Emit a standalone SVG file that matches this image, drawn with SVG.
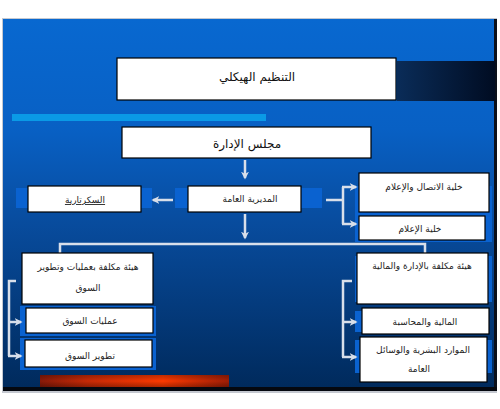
<svg xmlns="http://www.w3.org/2000/svg" width="500" height="409" viewBox="0 0 500 409">
<defs>
<linearGradient id="bg" x1="0" y1="0" x2="0" y2="1">
<stop offset="0" stop-color="#0868d0"/>
<stop offset="0.3" stop-color="#0860c4"/>
<stop offset="0.55" stop-color="#084c9e"/>
<stop offset="1" stop-color="#002a5c"/>
</linearGradient>
<linearGradient id="dark" x1="0" y1="0" x2="1" y2="0">
<stop offset="0" stop-color="#0a2c58"/>
<stop offset="1" stop-color="#000c22"/>
</linearGradient>
<linearGradient id="red" x1="0" y1="0" x2="1" y2="0">
<stop offset="0" stop-color="#8a1a08"/>
<stop offset="0.25" stop-color="#c82a06"/>
<stop offset="0.65" stop-color="#ff3a00"/>
<stop offset="1" stop-color="#a01e06"/>
</linearGradient>
<linearGradient id="redv" x1="0" y1="0" x2="0" y2="1">
<stop offset="0" stop-color="#000" stop-opacity="0.25"/>
<stop offset="0.5" stop-color="#000" stop-opacity="0"/>
<stop offset="1" stop-color="#000" stop-opacity="0.3"/>
</linearGradient>
<marker id="ah" viewBox="0 0 10 10" refX="8" refY="5" markerWidth="3.2" markerHeight="3.2" orient="auto" markerUnits="strokeWidth">
<path d="M0,0 L10,5 L0,10 L3,5 Z" fill="#d8dfea"/>
</marker>
<style>
.box{fill:#ffffff;stroke:#000000;stroke-width:1.2}
.pad{fill:#0a62d0}
.t{font-family:"DejaVu Sans","Liberation Sans",sans-serif;font-size:9px;fill:#222;text-anchor:middle;direction:rtl}
.big{font-size:12px;fill:#111}
.con{fill:none;stroke:#d8dfea;stroke-width:2.5}
</style>
</defs>
<rect x="0" y="0" width="500" height="409" fill="#ffffff"/>
<rect x="2" y="18" width="495" height="375" fill="#c4c8d0"/>
<rect x="3" y="19" width="492" height="369" fill="url(#bg)"/>
<rect x="494" y="19" width="3" height="372" fill="#0a0f1a"/>
<rect x="3" y="387" width="494" height="4" fill="#05080f"/>
<rect x="397" y="61" width="98" height="40" fill="url(#dark)"/>
<rect x="12" y="114" width="254" height="7" fill="#0a9ae6"/>
<rect x="40" y="375" width="189" height="12" fill="url(#red)"/>
<rect x="40" y="375" width="189" height="12" fill="url(#redv)"/>

<g id="pads">
<rect class="pad" x="16" y="188" width="136" height="20"/>
<rect class="pad" x="175" y="188" width="147" height="20"/>
<rect class="pad" x="355" y="186" width="137" height="56"/>
<rect class="pad" x="20" y="306" width="136" height="30"/>
<rect class="pad" x="20" y="338" width="136" height="32"/>
<rect class="pad" x="355" y="256" width="137" height="46"/>
<rect class="pad" x="355" y="311" width="10" height="21"/>
<rect class="pad" x="355" y="340" width="137" height="33"/>
</g>

<g id="connectors">
<line class="con" x1="245" y1="160" x2="245" y2="178" marker-end="url(#ah)"/>
<line class="con" x1="173" y1="200" x2="153" y2="200" marker-end="url(#ah)"/>
<line class="con" x1="326" y1="200" x2="343" y2="200"/>
<line class="con" x1="343" y1="187" x2="343" y2="224"/>
<line class="con" x1="342" y1="187" x2="356" y2="187" marker-end="url(#ah)"/>
<line class="con" x1="342" y1="224" x2="356" y2="224" marker-end="url(#ah)"/>
<line class="con" x1="245" y1="214" x2="245" y2="238" marker-end="url(#ah)"/>
<path class="con" d="M60,253 V244 H425 V253"/>
<path class="con" d="M16,281 H9 V356"/>
<line class="con" x1="8" y1="322" x2="21" y2="322" marker-end="url(#ah)"/>
<line class="con" x1="8" y1="356" x2="21" y2="356" marker-end="url(#ah)"/>
<path class="con" d="M352,281 H343 V357"/>
<line class="con" x1="342" y1="322" x2="356" y2="322" marker-end="url(#ah)"/>
<line class="con" x1="342" y1="357" x2="356" y2="357" marker-end="url(#ah)"/>
</g>

<g id="title">
<rect class="box" x="117" y="58" width="279" height="42" stroke-width="1.5"/>
<text class="t big" x="257" y="81">التنظيم الهيكلي</text>
</g>
<g id="board">
<rect class="box" x="122" y="127" width="249" height="31"/>
<text class="t big" x="247" y="148">مجلس الإدارة</text>
</g>
<g id="directorate">
<rect class="box" x="188" y="186" width="113" height="26"/>
<text class="t" x="250" y="202">المديرية العامة</text>
</g>
<g id="secretariat">
<rect class="box" x="28" y="186" width="113" height="26"/>
<text class="t" x="85" y="203" text-decoration="underline">السكرتارية</text>
</g>
<g id="comm">
<rect class="box" x="359" y="173" width="130" height="39"/>
<text class="t" x="424" y="190">خلية الاتصال والإعلام</text>
</g>
<g id="media">
<rect class="box" x="359" y="216" width="126" height="24"/>
<text class="t" x="420" y="232">خلية الإعلام</text>
</g>
<g id="market">
<rect class="box" x="22" y="253" width="131" height="51"/>
<text class="t" x="88" y="270">هيئة مكلفة بعمليات وتطوير</text>
<text class="t" x="88" y="291">السوق</text>
</g>
<g id="market-ops">
<rect class="box" x="26" y="308" width="127" height="25"/>
<text class="t" x="90" y="324">عمليات السوق</text>
</g>
<g id="market-dev">
<rect class="box" x="25" y="340" width="127" height="27"/>
<text class="t" x="90" y="359">تطوير السوق</text>
</g>
<g id="admin">
<rect class="box" x="357" y="253" width="131" height="51"/>
<text class="t" x="422" y="269">هيئة مكلفة بالإدارة والمالية</text>
</g>
<g id="finance">
<rect class="box" x="362" y="308" width="127" height="26"/>
<text class="t" x="425" y="325">المالية والمحاسبة</text>
</g>
<g id="hr">
<rect class="box" x="360" y="337" width="127" height="45"/>
<text class="t" x="423" y="353">الموارد البشرية والوسائل</text>
<text class="t" x="419" y="372">العامة</text>
</g>
</svg>
